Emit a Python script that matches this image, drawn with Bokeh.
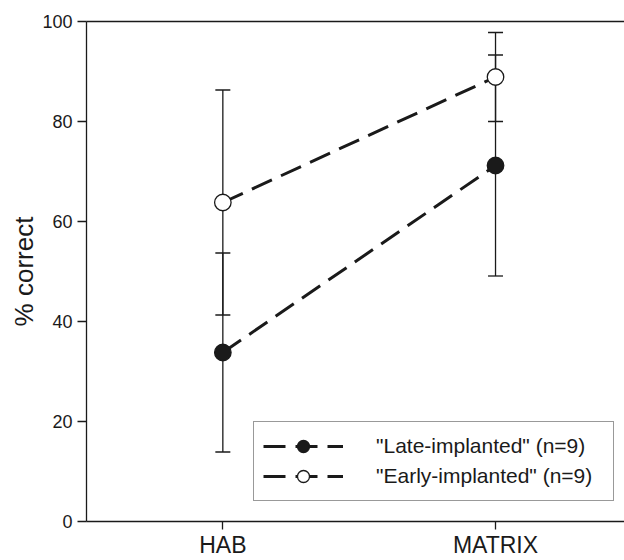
from bokeh.plotting import figure
from bokeh.models import (ColumnDataSource, Whisker, TeeHead, Legend, LegendItem,
                          FixedTicker, LinearAxis, Range1d)
from bokeh.embed import file_html
from bokeh.resources import INLINE

# Test conditions and group results (% correct, mean and error half-width)
conditions = ["HAB", "MATRIX"]
late_mean = [33.8, 71.2]
late_err = [19.9, 22.1]
early_mean = [63.8, 88.9]
early_err = [22.5, 8.9]
y_ticks = [0, 20, 40, 60, 80, 100]
late_label = '"Late-implanted" (n=9)'
early_label = '"Early-implanted" (n=9)'

INK = "#1a1a1a"
FONT = "Liberation Sans"

xs = list(range(len(conditions)))


def make_source(means, errs):
    return ColumnDataSource(dict(
        x=xs,
        y=means,
        upper=[m + e for m, e in zip(means, errs)],
        lower=[m - e for m, e in zip(means, errs)],
    ))


late_src = make_source(late_mean, late_err)
early_src = make_source(early_mean, early_err)

p = figure(width=624, height=560, output_backend="svg", toolbar_location=None,
           x_range=Range1d(-0.5, 1.473), y_range=Range1d(0, 100),
           min_border_left=86, min_border_right=0, min_border_top=21,
           min_border_bottom=39, outline_line_color=None,
           background_fill_color="white", border_fill_color="white")
p.grid.visible = False

# Bottom axis with the condition names
xa = p.xaxis[0]
xa.ticker = FixedTicker(ticks=xs)
xa.major_label_overrides = {i: c for i, c in zip(xs, conditions)}
xa.minor_tick_line_color = None
xa.major_tick_in = 0
xa.major_tick_out = 8
xa.major_tick_line_width = 1.3
xa.major_tick_line_color = INK
xa.axis_line_width = 1.3
xa.axis_line_color = INK
xa.major_label_text_font = FONT
xa.major_label_text_font_size = "23px"
xa.major_label_text_color = INK
xa.major_label_standoff = 2

# Left axis
ya = p.yaxis[0]
ya.ticker = FixedTicker(ticks=y_ticks)
ya.minor_tick_line_color = None
ya.major_tick_in = 0
ya.major_tick_out = 9
ya.major_tick_line_width = 1.3
ya.major_tick_line_color = INK
ya.axis_line_width = 1.3
ya.axis_line_color = INK
ya.major_label_text_font = FONT
ya.major_label_text_font_size = "18px"
ya.major_label_text_color = INK
ya.major_label_standoff = 5
ya.axis_label = "% correct"
ya.axis_label_text_font = FONT
ya.axis_label_text_font_size = "26px"
ya.axis_label_text_font_style = "normal"
ya.axis_label_text_color = INK
ya.axis_label_standoff = 0

# Plain top border line
top = LinearAxis(ticker=FixedTicker(ticks=[]), major_label_text_font_size="0px",
                 major_tick_line_color=None, minor_tick_line_color=None,
                 axis_line_width=1.3, axis_line_color=INK)
p.add_layout(top, "above")

# Error bars
for src in (late_src, early_src):
    w = Whisker(base="x", upper="upper", lower="lower", source=src,
                dimension="height", line_width=1.3, line_color=INK,
                upper_head=TeeHead(size=15, line_width=1.3, line_color=INK),
                lower_head=TeeHead(size=15, line_width=1.3, line_color=INK),
                level="underlay")
    p.add_layout(w)

# Dashed connecting lines and markers
late_line = p.line("x", "y", source=late_src, line_dash="22 10", line_width=3,
                   line_color=INK)
early_line = p.line("x", "y", source=early_src, line_dash="22 10", line_width=3,
                    line_color=INK)
late_pts = p.scatter("x", "y", source=late_src, size=16.5, fill_color=INK,
                     line_color=INK, line_width=1.3)
early_pts = p.scatter("x", "y", source=early_src, size=16.5, fill_color="white",
                      line_color=INK, line_width=1.3)

legend = Legend(items=[LegendItem(label=late_label, renderers=[late_line, late_pts]),
                       LegendItem(label=early_label, renderers=[early_line, early_pts])],
                location=(167, 20), glyph_width=80, glyph_height=30, label_height=30,
                spacing=-4, padding=9, margin=0, label_standoff=33, label_width=228,
                label_text_font=FONT, label_text_font_size="21px",
                label_text_color=INK, border_line_color="#333333",
                border_line_width=1.5, background_fill_color="white",
                background_fill_alpha=1.0)
p.add_layout(legend, "center")

open("out.html", "w").write(file_html(p, INLINE))
